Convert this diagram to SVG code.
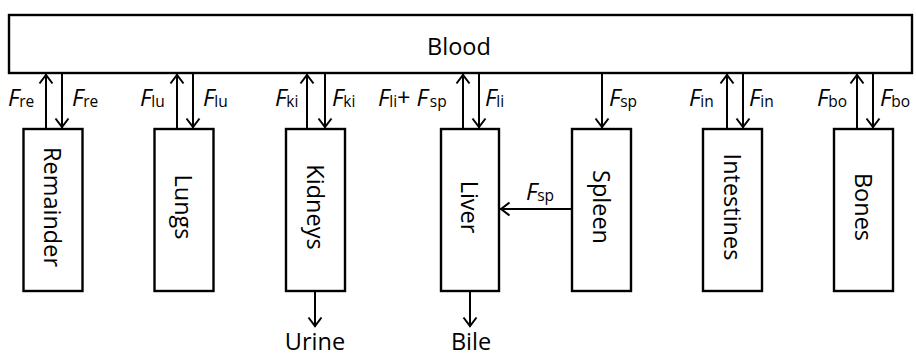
<svg xmlns="http://www.w3.org/2000/svg" width="916" height="356" viewBox="0 0 916 356">
<style>
text{font-family:"Open Sans","Noto Sans",Lato,"Liberation Sans",sans-serif;font-size:23.5px;fill:#000}
.box{fill:#fff;stroke:#000;stroke-width:2.4}
.c{stroke:#000;stroke-width:2;fill:none;marker-end:url(#ah)}
.f{font-style:italic}
.s{font-size:15.5px;font-style:normal}
.m{text-anchor:middle}
</style>
<defs>
<marker id="ah" markerUnits="userSpaceOnUse" markerWidth="16" markerHeight="16" viewBox="0 0 16 16" refX="11" refY="8" orient="auto">
<path d="M1.5,1.5 L10,8 L1.5,14.5" fill="none" stroke="#000" stroke-width="2"/>
</marker>
</defs>
<g id="blood"><rect class="box" x="9" y="15" width="903" height="58"/><text class="m" x="459" y="55">Blood</text></g>
<g id="remainder"><rect class="box" x="23.5" y="129" width="59" height="162"/><text class="m" transform="translate(53,207) rotate(90)" x="0" y="9">Remainder</text></g>
<g id="lungs"><rect class="box" x="154.5" y="129" width="59" height="162"/><text class="m" transform="translate(184,207) rotate(90)" x="0" y="9">Lungs</text></g>
<g id="kidneys"><rect class="box" x="286" y="129" width="59" height="162"/><text class="m" transform="translate(315.5,207) rotate(90)" x="0" y="9">Kidneys</text></g>
<g id="liver"><rect class="box" x="441" y="129" width="58" height="162"/><text class="m" transform="translate(470,207) rotate(90)" x="0" y="9">Liver</text></g>
<g id="spleen"><rect class="box" x="572" y="129" width="59" height="162"/><text class="m" transform="translate(601.5,207) rotate(90)" x="0" y="9">Spleen</text></g>
<g id="intestines"><rect class="box" x="703" y="129" width="59" height="162"/><text class="m" transform="translate(732.5,207) rotate(90)" x="0" y="9">Intestines</text></g>
<g id="bones"><rect class="box" x="834" y="129" width="59" height="162"/><text class="m" transform="translate(863.5,207) rotate(90)" x="0" y="9">Bones</text></g>
<g id="urine"><text class="m" x="315" y="350">Urine</text></g>
<g id="bile"><text class="m" x="471" y="350">Bile</text></g>
<g id="connectors">
<path class="c" d="M46,129 V74"/><path class="c" d="M62,73 V128"/>
<path class="c" d="M177,129 V74"/><path class="c" d="M193,73 V128"/>
<path class="c" d="M307,129 V74"/><path class="c" d="M325,73 V128"/>
<path class="c" d="M463,129 V74"/><path class="c" d="M479,73 V128"/>
<path class="c" d="M602,73 V128"/>
<path class="c" d="M727,129 V74"/><path class="c" d="M743,73 V128"/>
<path class="c" d="M857,129 V74"/><path class="c" d="M873,73 V128"/>
<path class="c" d="M572,209 H500"/>
<path class="c" d="M315,291 V327"/>
<path class="c" d="M470,291 V327"/>
</g>
<g id="labels">
<text x="8" y="106"><tspan class="f">F</tspan><tspan class="s" dy="1">re</tspan></text>
<text x="72" y="106"><tspan class="f">F</tspan><tspan class="s" dy="1">re</tspan></text>
<text x="140" y="106"><tspan class="f">F</tspan><tspan class="s" dy="1">lu</tspan></text>
<text x="203" y="106"><tspan class="f">F</tspan><tspan class="s" dy="1">lu</tspan></text>
<text x="275" y="106"><tspan class="f">F</tspan><tspan class="s" dy="1">ki</tspan></text>
<text x="332" y="106"><tspan class="f">F</tspan><tspan class="s" dy="1">ki</tspan></text>
<text x="378" y="106"><tspan class="f">F</tspan><tspan class="s" dy="1">li</tspan><tspan dy="-1">+ </tspan><tspan class="f">F</tspan><tspan class="s" dx="2" dy="1">sp</tspan></text>
<text x="485" y="106"><tspan class="f">F</tspan><tspan class="s" dy="1">li</tspan></text>
<text x="609" y="106"><tspan class="f">F</tspan><tspan class="s" dy="1">sp</tspan></text>
<text x="689" y="106"><tspan class="f">F</tspan><tspan class="s" dy="1">in</tspan></text>
<text x="749" y="106"><tspan class="f">F</tspan><tspan class="s" dy="1">in</tspan></text>
<text x="817" y="106"><tspan class="f">F</tspan><tspan class="s" dy="1">bo</tspan></text>
<text x="880" y="106"><tspan class="f">F</tspan><tspan class="s" dy="1">bo</tspan></text>
<text x="526" y="200"><tspan class="f">F</tspan><tspan class="s" dy="1">sp</tspan></text>
</g>
</svg>
